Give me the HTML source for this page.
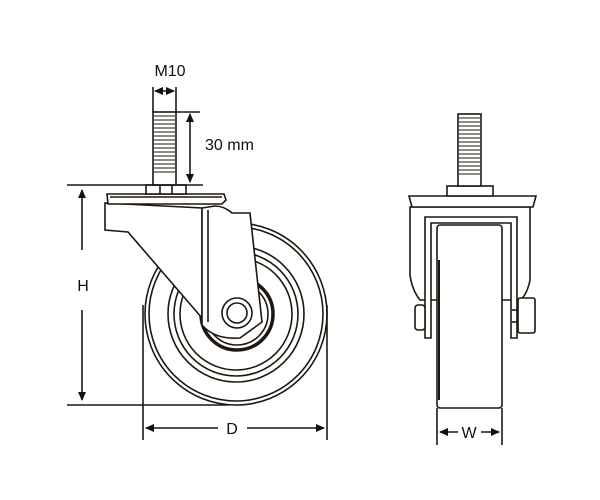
<!DOCTYPE html>
<html><head><style>body{margin:0;background:#fff}svg{display:block}text{font-family:"Liberation Sans",sans-serif;fill:#111}</style></head><body>
<svg width="600" height="500" viewBox="0 0 600 500" xmlns="http://www.w3.org/2000/svg">
<defs>
<marker id="a" markerWidth="9" markerHeight="8" refX="8" refY="4" orient="auto-start-reverse" markerUnits="userSpaceOnUse"><path d="M0,0 L9,4 L0,8 Z" fill="#111"/></marker>
</defs>
<g stroke="#1e170f" fill="none" stroke-width="1.6">
<!-- LEFT VIEW -->
<circle cx="236" cy="314" r="91" fill="#fff"/>
<circle cx="236" cy="314" r="87"/>
<circle cx="236" cy="314" r="68"/>
<circle cx="236" cy="314" r="62"/>
<circle cx="236" cy="314" r="56"/>
<circle cx="237" cy="314" r="36" stroke-width="3.5"/>
<circle cx="237" cy="314" r="31"/>
<path d="M105,203 L105,230 L128,232 L202,318 L202,208 L105,203 Z" fill="#fff"/>
<path d="M202,208 L202,325 Q215,340 240,338 L262,322 L250,213 L232,213 Q224,206 215,206 Z" fill="#fff"/>
<line x1="208" y1="210" x2="208" y2="322"/>
<circle cx="237" cy="313" r="15" fill="#fff"/>
<circle cx="237" cy="313" r="10"/>
<path d="M107,194 L224,194 L226,200 L222,204 L108,204 Z" fill="#fff"/>
<line x1="110" y1="197" x2="222" y2="197"/>
<rect x="146" y="185" width="40" height="9" fill="#fff"/>
<line x1="160" y1="185" x2="160" y2="194"/><line x1="172" y1="185" x2="172" y2="194"/>
<rect x="153" y="112" width="23" height="73" fill="#fff"/>
<path stroke-width="1.1" d="M154,116h21M154,120h21M154,124h21M154,128h21M154,132h21M154,136h21M154,140h21M154,144h21M154,148h21M154,152h21M154,156h21M154,160h21M154,164h21M154,168h21M154,172h21"/>
<line x1="153" y1="87" x2="153" y2="112"/><line x1="176" y1="87" x2="176" y2="112"/>
<line x1="155" y1="91" x2="174" y2="91" marker-start="url(#a)" marker-end="url(#a)"/>
<line x1="176" y1="112" x2="200" y2="112"/>
<line x1="190" y1="114" x2="190" y2="182" marker-start="url(#a)" marker-end="url(#a)"/>
<line x1="67" y1="185" x2="203" y2="185"/>
<line x1="67" y1="405" x2="228" y2="405"/>
<line x1="82" y1="190" x2="82" y2="250" marker-start="url(#a)"/>
<line x1="82" y1="310" x2="82" y2="400" marker-end="url(#a)"/>
<line x1="143" y1="305" x2="143" y2="440"/><line x1="327" y1="305" x2="327" y2="440"/>
<line x1="146" y1="428" x2="218" y2="428" marker-start="url(#a)"/>
<line x1="247" y1="428" x2="324" y2="428" marker-end="url(#a)"/>

<!-- RIGHT VIEW -->
<path d="M410,207 L530,207 L530,280 Q527,295 520,300 L420,300 Q412,290 410,275 Z" fill="#fff"/>
<path d="M425,338 L425,217 L517,217 L517,338 L511,338 L511,223 L431,223 L431,338 Z" fill="#fff"/>
<rect x="437" y="225" width="65" height="183" rx="3" fill="#fff"/>
<line x1="439" y1="260" x2="439" y2="400" stroke-width="2"/>
<rect x="415" y="305" width="10" height="25" rx="3" fill="#fff"/>
<rect x="518" y="298" width="17" height="35" rx="2" fill="#fff"/>
<line x1="512" y1="310" x2="518" y2="310"/><line x1="512" y1="322" x2="518" y2="322"/>
<path d="M409,196 L536,196 L533,207 L412,207 Z" fill="#fff"/>
<rect x="447" y="186" width="46" height="10" fill="#fff"/>
<rect x="458" y="114" width="23" height="72" fill="#fff"/>
<path stroke-width="1.1" d="M459,118h21M459,122h21M459,126h21M459,130h21M459,134h21M459,138h21M459,142h21M459,146h21M459,150h21M459,154h21M459,158h21M459,162h21M459,166h21M459,170h21M459,174h21"/>
<line x1="437" y1="408" x2="437" y2="445"/><line x1="502" y1="408" x2="502" y2="445"/>
<line x1="440" y1="432" x2="458" y2="432" marker-start="url(#a)"/>
<line x1="481" y1="432" x2="499" y2="432" marker-end="url(#a)"/>
</g>
<text x="170" y="76" font-size="16" text-anchor="middle">M10</text>
<text x="205" y="150" font-size="16">30 mm</text>
<text x="83" y="291" font-size="16" text-anchor="middle">H</text>
<text x="232" y="434" font-size="16" text-anchor="middle">D</text>
<text x="469" y="438" font-size="16" text-anchor="middle">W</text>
</svg>
</body></html>
